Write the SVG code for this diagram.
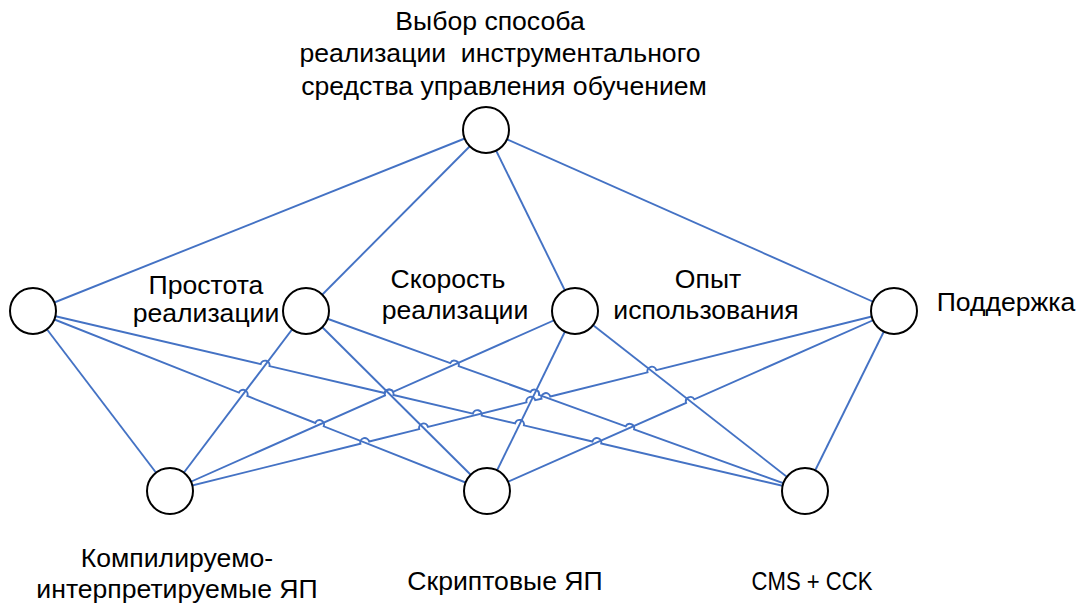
<svg xmlns="http://www.w3.org/2000/svg" width="1078" height="604" viewBox="0 0 1078 604">
<style>
.e{fill:none;stroke:#4472C4;stroke-width:1.9}
.n{fill:#fff;stroke:#000;stroke-width:2}
.t{font-family:"Liberation Sans",Arial,sans-serif;font-size:26.6px;fill:#000;text-anchor:middle}
</style>
<rect width="1078" height="604" fill="#fff"/>
<g id="connectors">
<line class="e" x1="486" y1="130" x2="33" y2="311"/>
<line class="e" x1="486" y1="130" x2="306" y2="311"/>
<line class="e" x1="486" y1="130" x2="575" y2="311"/>
<line class="e" x1="486" y1="130" x2="894" y2="311"/>
<line class="e" x1="33" y1="311" x2="170" y2="491"/>
<path class="e" d="M33 311 L238.9 392.6 A4.5 4.5 0 0 1 247.3 396.0 L315.3 422.9 A4.5 4.5 0 0 1 323.7 426.3 L487 491"/>
<path class="e" d="M33 311 L260.7 364.1 A4.5 4.5 0 0 1 269.5 366.1 L384.6 393.0 A4.5 4.5 0 0 1 393.4 395.0 L472.9 413.6 A4.5 4.5 0 0 1 481.7 415.6 L515.1 423.4 A4.5 4.5 0 0 1 523.9 425.4 L592.4 441.5 A4.5 4.5 0 0 1 601.2 443.5 L805 491"/>
<line class="e" x1="306" y1="311" x2="170" y2="491"/>
<line class="e" x1="306" y1="311" x2="487" y2="491"/>
<path class="e" d="M306 311 L450.3 363.1 A4.5 4.5 0 0 1 458.7 366.1 L530.5 392.0 A4.5 4.5 0 0 1 538.9 395.0 L625.7 426.3 A4.5 4.5 0 0 1 634.1 429.3 L805 491"/>
<path class="e" d="M170 491 L385.0 395.4 A4.5 4.5 0 0 1 393.2 391.8 L575 311"/>
<line class="e" x1="575" y1="311" x2="487" y2="491"/>
<line class="e" x1="575" y1="311" x2="805" y2="491"/>
<path class="e" d="M170 491 L360.4 443.7 A4.5 4.5 0 0 1 369.2 441.5 L419.2 429.1 A4.5 4.5 0 0 1 428.0 426.9 L526.5 402.4 A4.5 4.5 0 0 1 535.3 400.2 L541.5 398.7 A4.5 4.5 0 0 1 550.3 396.5 L647.5 372.3 A4.5 4.5 0 0 1 656.3 370.1 L894 311"/>
<path class="e" d="M487 491 L686.1 402.9 A4.5 4.5 0 0 1 694.3 399.3 L894 311"/>
<line class="e" x1="894" y1="311" x2="805" y2="491"/>
</g>
<g id="node-top"><circle class="n" cx="486" cy="130" r="23"/>
<text class="t" x="490" y="30">Выбор способа</text>
<text class="t" x="500" y="62" xml:space="preserve">реализации  инструментального</text>
<text class="t" x="504" y="95">средства управления обучением</text></g>
<g id="node-n1"><circle class="n" cx="33" cy="311" r="23"/></g>
<g id="node-n2"><circle class="n" cx="306" cy="311" r="23"/>
<text class="t" x="206" y="294">Простота</text>
<text class="t" x="206" y="322">реализации</text></g>
<g id="node-n3"><circle class="n" cx="575" cy="311" r="23"/>
<text class="t" x="448" y="288">Скорость</text>
<text class="t" x="455" y="319">реализации</text></g>
<g id="node-n4"><circle class="n" cx="894" cy="311" r="23"/>
<text class="t" x="708" y="288">Опыт</text>
<text class="t" x="706" y="319">использования</text></g>
<g id="node-n5"><text class="t" x="1006" y="311">Поддержка</text></g>
<g id="node-b1"><circle class="n" cx="170" cy="491" r="23"/>
<text class="t" x="177" y="567">Компилируемо-</text>
<text class="t" x="177" y="598">интерпретируемые ЯП</text></g>
<g id="node-b2"><circle class="n" cx="487" cy="491" r="23"/>
<text class="t" x="505" y="590">Скриптовые ЯП</text></g>
<g id="node-b3"><circle class="n" cx="805" cy="491" r="23"/>
<text class="t" x="812" y="590" style="font-size:25px" textLength="121" lengthAdjust="spacingAndGlyphs">CMS + CCK</text></g>
</svg>
